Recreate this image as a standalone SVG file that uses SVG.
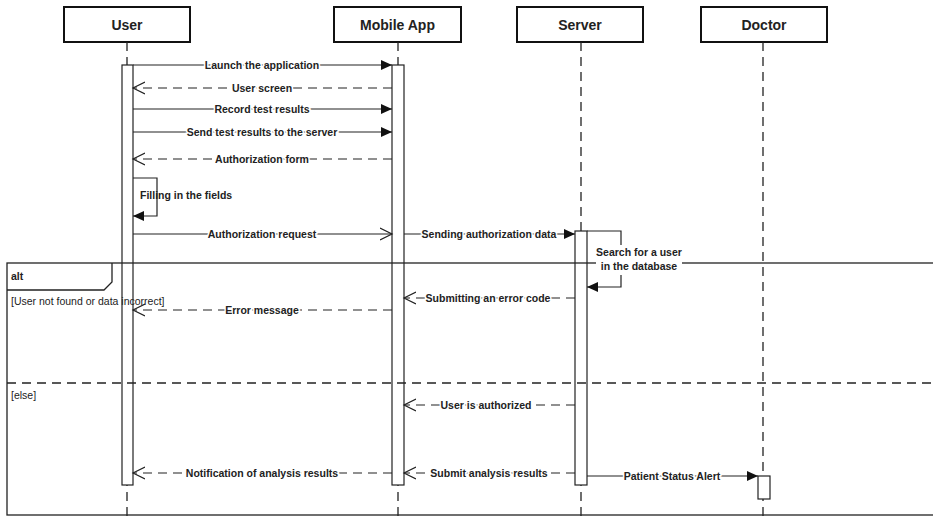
<svg xmlns="http://www.w3.org/2000/svg" width="933" height="517" viewBox="0 0 933 517">
<style>
.hdr{fill:#fff;stroke:#111;stroke-width:2}
.hdrt{font-family:"Liberation Sans",Arial,sans-serif;font-weight:bold;font-size:14px;fill:#222;text-anchor:middle}
.life{stroke:#222;stroke-width:1.3;stroke-dasharray:9,6;fill:none}
.act{fill:#fff;stroke:#222;stroke-width:1.2}
.msg{stroke:#222;stroke-width:1.2;fill:none}
.ret{stroke:#222;stroke-width:1.2;fill:none;stroke-dasharray:9,6}
.lbl{font-family:"Liberation Sans",Arial,sans-serif;font-weight:bold;font-size:10.5px;fill:#222;text-anchor:middle;paint-order:stroke;stroke:#fff;stroke-width:3px}
.lbll{font-family:"Liberation Sans",Arial,sans-serif;font-weight:bold;font-size:10.5px;fill:#222}
.frame{fill:none;stroke:#222;stroke-width:1.3}
.guard{font-family:"Liberation Sans",Arial,sans-serif;font-size:10.5px;fill:#222}
</style>
<defs>
<marker id="filled" markerUnits="userSpaceOnUse" markerWidth="12" markerHeight="10" refX="11" refY="5" orient="auto"><path d="M0,0 L11,5 L0,10 z" fill="#111"/></marker>
<marker id="open" markerUnits="userSpaceOnUse" markerWidth="14" markerHeight="14" refX="12" refY="7" orient="auto"><path d="M0,1 L12,7 L0,13" fill="none" stroke="#222" stroke-width="1.2"/></marker>
</defs>
<rect width="933" height="517" fill="#fff"/>

<g id="user">
<rect class="hdr" x="64" y="7" width="126" height="35"/>
<text class="hdrt" x="127" y="30">User</text>
<line class="life" x1="127" y1="42" x2="127" y2="517"/>
<rect class="act" x="122" y="65" width="11" height="420"/>
</g>
<g id="mobileApp">
<rect class="hdr" x="334" y="7" width="127" height="35"/>
<text class="hdrt" x="397.5" y="30">Mobile App</text>
<line class="life" x1="398" y1="42" x2="398" y2="517"/>
<rect class="act" x="392" y="65" width="12" height="420"/>
</g>
<g id="server">
<rect class="hdr" x="517" y="7" width="126" height="35"/>
<text class="hdrt" x="580" y="30">Server</text>
<line class="life" x1="581" y1="42" x2="581" y2="517"/>
<rect class="act" x="575" y="231" width="12" height="254"/>
</g>
<g id="doctor">
<rect class="hdr" x="701" y="7" width="126" height="35"/>
<text class="hdrt" x="764" y="30">Doctor</text>
<line class="life" x1="763" y1="42" x2="763" y2="517"/>
<rect class="act" x="758" y="476" width="12" height="23"/>
</g>

<g id="altFrame">
<rect class="frame" x="7" y="263" width="940" height="252"/>
<path class="frame" d="M7,290 L104,290 L112,282 L112,263"/>
<text class="lbll" x="11" y="280">alt</text>
<text class="guard" x="11" y="305">[User not found or data incorrect]</text>
<line class="frame" x1="7" y1="383" x2="933" y2="383" stroke-dasharray="9,6"/>
<text class="guard" x="11" y="399">[else]</text>
</g>

<g id="connectors">
<line class="msg" x1="133" y1="65" x2="392" y2="65" marker-end="url(#filled)"/>
<text class="lbl" x="262" y="68.5">Launch the application</text>
<line class="ret" x1="392" y1="88" x2="133" y2="88" marker-end="url(#open)"/>
<text class="lbl" x="262" y="91.5">User screen</text>
<line class="msg" x1="133" y1="109" x2="392" y2="109" marker-end="url(#filled)"/>
<text class="lbl" x="262" y="112.5">Record test results</text>
<line class="msg" x1="133" y1="132" x2="392" y2="132" marker-end="url(#filled)"/>
<text class="lbl" x="262" y="135.5">Send test results to the server</text>
<line class="ret" x1="392" y1="159" x2="133" y2="159" marker-end="url(#open)"/>
<text class="lbl" x="262" y="162.5">Authorization form</text>
<path class="msg" d="M133,178 L157,178 L157,216 L133,216" marker-end="url(#filled)"/>
<text class="lbll" x="140" y="199">Filling in the fields</text>
<line class="msg" x1="133" y1="234" x2="392" y2="234" marker-end="url(#open)"/>
<text class="lbl" x="262" y="237.5">Authorization request</text>
<line class="msg" x1="404" y1="234" x2="575" y2="234" marker-end="url(#filled)"/>
<text class="lbl" x="489" y="237.5">Sending authorization data</text>
<path class="msg" d="M587,231 L621,231 L621,287 L587,287" marker-end="url(#filled)"/>
<rect x="596" y="245" width="86" height="30" fill="#fff"/>
<text class="lbl" x="639" y="256">Search for a user</text>
<text class="lbl" x="639" y="270">in the database</text>
<line class="ret" x1="575" y1="298" x2="404" y2="298" marker-end="url(#open)"/>
<text class="lbl" x="488" y="301.5">Submitting an error code</text>
<line class="ret" x1="392" y1="310" x2="133" y2="310" marker-end="url(#open)"/>
<text class="lbl" x="262" y="313.5">Error message</text>
<line class="ret" x1="575" y1="405" x2="404" y2="405" marker-end="url(#open)"/>
<text class="lbl" x="486" y="408.5">User is authorized</text>
<line class="ret" x1="575" y1="473" x2="404" y2="473" marker-end="url(#open)"/>
<text class="lbl" x="489" y="476.5">Submit analysis results</text>
<line class="ret" x1="392" y1="473" x2="133" y2="473" marker-end="url(#open)"/>
<text class="lbl" x="262" y="476.5">Notification of analysis results</text>
<line class="msg" x1="587" y1="476" x2="758" y2="476" marker-end="url(#filled)"/>
<text class="lbl" x="672" y="479.5">Patient Status Alert</text>
</g>
</svg>
